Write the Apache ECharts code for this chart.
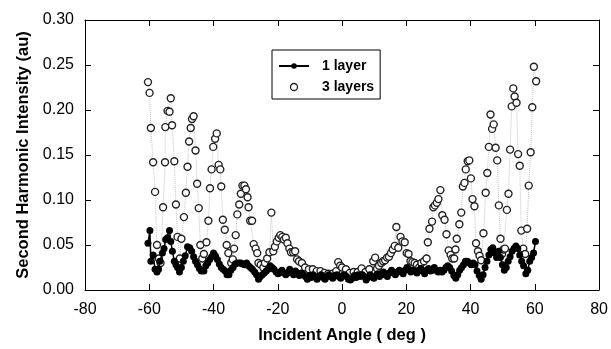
<!DOCTYPE html>
<html>
<head>
<meta charset="utf-8">
<script src="https://cdn.jsdelivr.net/npm/echarts@6/dist/echarts.min.js"></script>
<style>html,body{margin:0;padding:0;background:#fff}#c{width:611px;height:349px}</style>
</head>
<body>
<div id="c"></div>
<script>
var seriesNames = ['1 layer', '3 layers'];
var xTicks = [-80, -60, -40, -20, 0, 20, 40, 60, 80];
var yTicks = [0.00, 0.05, 0.10, 0.15, 0.20, 0.25, 0.30];

var angle1 = [-60.4,-59.8,-59.5,-58.8,-58.2,-57.6,-57.1,-56.7,-55.9,-55.4,-54.9,-54.3,-53.7,-53.3,-52.8,-52.2,-51.7,-51.2,-50.6,-50.0,-49.4,-48.8,-48.1,-47.4,-46.8,-46.2,-45.6,-45.0,-44.4,-43.8,-43.0,-42.4,-41.8,-41.2,-40.6,-40.0,-39.4,-38.8,-38.2,-37.6,-37.0,-36.4,-35.8,-35.2,-34.6,-33.9,-33.3,-32.7,-32.1,-31.5,-30.9,-30.3,-29.7,-29.1,-28.5,-27.9,-27.2,-26.6,-26.0,-25.4,-24.8,-24.2,-23.6,-23.0,-22.4,-21.8,-21.2,-20.5,-19.9,-19.3,-18.7,-18.1,-17.5,-16.9,-16.3,-15.7,-15.1,-14.5,-13.9,-13.3,-12.6,-12.0,-11.4,-10.8,-10.2,-9.6,-9.0,-8.4,-7.8,-7.1,-6.5,-5.9,-5.3,-4.7,-4.1,-3.5,-2.9,-2.3,-1.6,-1.0,-0.4,0.2,0.8,1.4,2.0,2.6,3.2,3.8,4.4,5.0,5.6,6.3,6.9,7.5,8.1,8.7,9.3,9.9,10.5,11.1,11.7,12.3,12.9,13.5,14.1,14.7,15.4,16.0,16.6,17.2,17.8,18.4,19.0,19.6,20.2,20.8,21.4,22.0,22.6,23.3,23.9,24.5,25.1,25.7,26.3,26.9,27.5,28.1,28.7,29.3,29.9,30.5,31.1,31.7,32.3,32.9,33.5,34.1,34.8,35.4,36.0,36.6,37.2,37.8,38.4,39.0,39.6,40.2,40.8,41.4,42.0,42.7,43.3,43.9,44.5,45.1,45.7,46.3,46.9,47.5,48.1,48.7,49.3,49.9,50.5,51.1,51.7,52.3,52.9,53.5,54.1,54.7,55.3,55.9,56.5,57.2,57.8,58.4,59.0,59.6,60.2];
var intensity1 = [0.052,0.066,0.032,0.039,0.023,0.020,0.023,0.032,0.041,0.046,0.056,0.058,0.066,0.054,0.043,0.032,0.028,0.025,0.020,0.025,0.032,0.038,0.048,0.047,0.043,0.037,0.032,0.028,0.024,0.021,0.021,0.027,0.030,0.034,0.037,0.041,0.038,0.034,0.029,0.025,0.023,0.021,0.017,0.017,0.022,0.025,0.029,0.030,0.030,0.030,0.029,0.028,0.030,0.027,0.025,0.023,0.020,0.017,0.012,0.015,0.017,0.019,0.021,0.023,0.027,0.025,0.023,0.020,0.018,0.020,0.022,0.019,0.017,0.019,0.023,0.020,0.017,0.021,0.019,0.016,0.019,0.017,0.015,0.012,0.016,0.014,0.017,0.015,0.012,0.015,0.017,0.014,0.012,0.015,0.017,0.015,0.013,0.016,0.017,0.015,0.013,0.016,0.017,0.015,0.012,0.011,0.013,0.016,0.014,0.017,0.015,0.017,0.015,0.011,0.014,0.017,0.015,0.013,0.016,0.018,0.015,0.017,0.020,0.017,0.015,0.019,0.022,0.019,0.017,0.020,0.022,0.020,0.018,0.022,0.025,0.023,0.020,0.022,0.021,0.019,0.022,0.024,0.021,0.018,0.022,0.024,0.021,0.022,0.025,0.022,0.020,0.022,0.020,0.022,0.025,0.027,0.025,0.021,0.016,0.013,0.017,0.022,0.025,0.028,0.032,0.032,0.030,0.028,0.030,0.028,0.021,0.016,0.012,0.017,0.025,0.032,0.039,0.045,0.047,0.041,0.036,0.043,0.036,0.028,0.022,0.025,0.032,0.037,0.043,0.046,0.049,0.046,0.039,0.032,0.027,0.018,0.022,0.032,0.036,0.041,0.054];

var angle3 = [-60.4,-59.9,-59.5,-58.8,-58.2,-57.6,-57.0,-56.5,-55.7,-55.1,-55.0,-54.3,-53.7,-53.3,-52.9,-52.2,-51.7,-51.2,-50.5,-50.0,-49.2,-48.6,-48.1,-47.6,-47.1,-46.7,-46.2,-45.6,-45.1,-44.6,-44.1,-43.5,-43.0,-42.2,-41.6,-41.1,-40.6,-40.1,-39.5,-39.0,-38.4,-37.9,-37.6,-37.1,-36.5,-35.9,-35.4,-34.5,-34.0,-33.6,-33.1,-32.6,-32.0,-31.5,-31.0,-30.4,-29.9,-29.4,-29.1,-28.6,-28.0,-27.5,-26.9,-26.4,-26.0,-25.3,-24.5,-24.0,-23.3,-22.6,-22.0,-21.4,-20.9,-20.3,-19.7,-19.2,-18.6,-18.1,-17.5,-17.0,-16.4,-15.9,-15.2,-14.6,-14.0,-13.4,-12.5,-11.5,-10.3,-9.1,-7.9,-6.7,-5.5,-4.3,-3.0,-1.8,-1.2,-0.6,0.0,1.2,2.4,3.6,4.9,6.1,7.3,8.5,9.7,10.3,10.9,11.5,12.2,12.8,13.4,14.0,14.6,15.2,15.8,16.4,16.9,17.5,18.2,18.8,19.5,20.1,20.7,21.3,21.9,22.6,23.3,24.0,24.7,25.5,26.3,26.7,27.2,28.0,28.4,28.9,29.5,30.0,30.6,31.2,31.9,32.5,33.2,33.8,34.3,34.9,35.3,35.7,36.5,37.1,37.6,38.1,38.5,39.1,39.6,40.1,40.6,41.2,41.7,42.3,42.8,43.3,44.0,44.7,45.2,45.7,46.2,46.7,47.2,47.8,48.3,48.8,49.3,49.8,50.2,50.7,51.3,51.8,52.3,52.8,53.3,53.7,54.3,54.8,55.3,55.8,56.4,57.0,57.6,58.1,58.7,59.2,59.7,60.4];
var intensity3 = [0.231,0.219,0.180,0.142,0.109,0.050,0.035,0.030,0.092,0.142,0.181,0.199,0.198,0.213,0.183,0.143,0.095,0.059,0.035,0.057,0.081,0.108,0.137,0.165,0.180,0.190,0.193,0.155,0.118,0.091,0.050,0.035,0.040,0.053,0.077,0.113,0.134,0.159,0.168,0.174,0.139,0.134,0.115,0.078,0.067,0.050,0.041,0.030,0.034,0.046,0.061,0.084,0.095,0.107,0.116,0.116,0.112,0.103,0.092,0.077,0.077,0.051,0.046,0.041,0.030,0.028,0.025,0.030,0.035,0.042,0.086,0.043,0.048,0.054,0.058,0.061,0.059,0.056,0.058,0.052,0.046,0.042,0.042,0.043,0.034,0.032,0.030,0.025,0.023,0.023,0.021,0.021,0.019,0.018,0.018,0.021,0.031,0.027,0.025,0.023,0.019,0.020,0.020,0.024,0.020,0.023,0.032,0.036,0.024,0.027,0.030,0.032,0.033,0.036,0.037,0.041,0.045,0.049,0.070,0.047,0.059,0.054,0.053,0.041,0.040,0.032,0.031,0.030,0.028,0.025,0.030,0.032,0.035,0.053,0.068,0.076,0.092,0.094,0.097,0.101,0.111,0.083,0.078,0.062,0.044,0.039,0.035,0.035,0.045,0.057,0.073,0.086,0.115,0.119,0.134,0.143,0.144,0.124,0.101,0.093,0.052,0.043,0.038,0.033,0.063,0.108,0.130,0.159,0.195,0.179,0.184,0.158,0.144,0.094,0.057,0.040,0.045,0.046,0.089,0.107,0.156,0.204,0.224,0.215,0.208,0.151,0.138,0.066,0.046,0.040,0.068,0.116,0.153,0.203,0.248,0.232];

function pairs(xs, ys) { return xs.map(function (x, i) { return [x, ys[i]]; }); }

var FONT = 'Liberation Sans, Arial, sans-serif';
var chart = echarts.init(document.getElementById('c'), null, {renderer: 'canvas'});
var axisFont = {fontFamily: FONT, fontSize: 16, color: '#000'};
var titleFont = {fontFamily: FONT, fontSize: 16.5, fontWeight: 'bold', color: '#000'};
chart.setOption({
  animation: false,
  backgroundColor: '#fff',
  grid: {left: 85, right: 10, top: 20, bottom: 53, containLabel: false},
  legend: {
    data: [
      {name: seriesNames[0]},
      {name: seriesNames[1], icon: 'circle', itemStyle: {color: '#fff', borderColor: '#222', borderWidth: 1.3}}
    ],
    orient: 'vertical',
    left: 272, top: 50,
    padding: [9, 6, 5, 6],
    itemGap: 7,
    itemWidth: 30, itemHeight: 7,
    borderColor: '#000', borderWidth: 1,
    backgroundColor: '#fff',
    textStyle: {fontFamily: FONT, fontSize: 14, fontWeight: 'bold', color: '#000', padding: [0, 0, 0, 8]}
  },
  xAxis: [{
    type: 'value', min: -80, max: 80, interval: 20,
    name: 'Incident Angle ( deg )', nameLocation: 'middle', nameGap: 37,
    nameTextStyle: titleFont,
    axisLine: {show: true, onZero: false, lineStyle: {color: '#000', width: 1}},
    axisTick: {show: true, inside: true, length: 6, lineStyle: {color: '#000'}},
    axisLabel: Object.assign({margin: 12, formatter: function (v) { return xTicks.indexOf(v) >= 0 ? String(v) : ''; }}, axisFont),
    splitLine: {show: false}
  }, {
    type: 'value', min: -80, max: 80, interval: 20, position: 'top',
    axisLine: {show: true, onZero: false, lineStyle: {color: '#000', width: 1}},
    axisTick: {show: true, inside: true, length: 6, lineStyle: {color: '#000'}},
    axisLabel: {show: false}, splitLine: {show: false}
  }],
  yAxis: [{
    type: 'value', min: 0, max: 0.30, interval: 0.05,
    name: 'Second Harmonic Intensity (au)', nameLocation: 'middle', nameGap: 53,
    nameTextStyle: titleFont,
    axisLine: {show: true, onZero: false, lineStyle: {color: '#000', width: 1}},
    axisTick: {show: true, inside: true, length: 6, lineStyle: {color: '#000'}},
    axisLabel: Object.assign({margin: 11, formatter: function (v) { return v.toFixed(2); }}, axisFont),
    splitLine: {show: false}
  }, {
    type: 'value', min: 0, max: 0.30, interval: 0.05, position: 'right',
    axisLine: {show: true, onZero: false, lineStyle: {color: '#000', width: 1}},
    axisTick: {show: true, inside: true, length: 6, lineStyle: {color: '#000'}},
    axisLabel: {show: false}, splitLine: {show: false}
  }],
  series: [{
    name: seriesNames[1], type: 'line', data: pairs(angle3, intensity3),
    symbol: 'circle', symbolSize: 7, showAllSymbol: true,
    itemStyle: {color: '#fff', borderColor: '#222', borderWidth: 1.4},
    lineStyle: {type: 'dotted', color: '#c4c4c4', width: 1},
    z: 2
  }, {
    name: seriesNames[0], type: 'line', data: pairs(angle1, intensity1),
    symbol: 'circle', symbolSize: 7, showAllSymbol: true,
    itemStyle: {color: '#000', borderColor: '#000', borderWidth: 0},
    lineStyle: {type: 'solid', color: '#000', width: 1.5},
    z: 3
  }]
});
</script>
</body>
</html>
